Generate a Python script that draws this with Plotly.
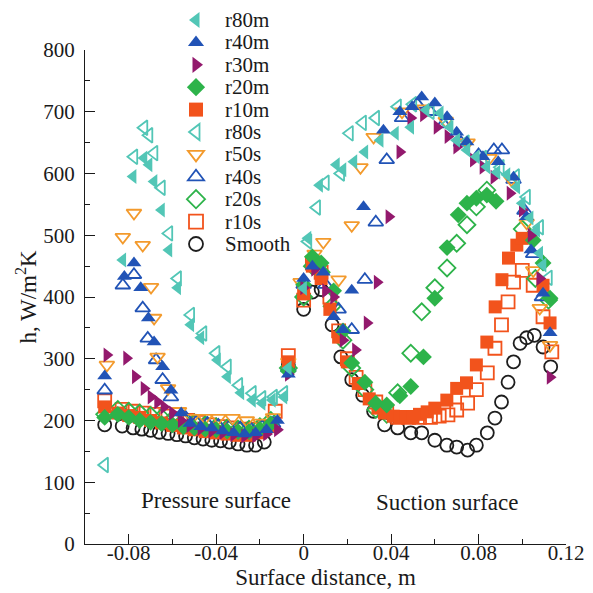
import math
import plotly.graph_objects as go

# ---------------- data ----------------
smooth_x = [-0.091, -0.083, -0.078, -0.074, -0.070, -0.066, -0.062, -0.058, -0.054, -0.050, -0.046, -0.042,
            -0.038, -0.034, -0.030, -0.026, -0.022, -0.018, -0.007, 0.000, 0.004, 0.008, 0.013, 0.017, 0.022,
            0.027, 0.032, 0.037, 0.043, 0.049, 0.054, 0.060, 0.0655, 0.070, 0.075, 0.079, 0.084, 0.0875,
            0.0905, 0.0935, 0.096, 0.099, 0.102, 0.1055, 0.1095, 0.113]
smooth_y = [193, 191, 188, 186, 184, 181, 179, 177, 175, 172, 170, 168, 167, 165, 162, 160, 160, 165, 290,
            380, 408, 412, 355, 303, 266, 241, 215, 193, 188, 180, 180, 168, 160, 157, 152, 160, 180, 204,
            230, 262, 295, 325, 334, 338, 319, 287]

r10s_x = [-0.091, -0.083, -0.078, -0.073, -0.068, -0.063, -0.058, -0.053, -0.048, -0.043, -0.038, -0.033,
          -0.028, -0.023, -0.018, -0.013, -0.007,
          0.000, 0.004, 0.008, 0.012, 0.016, 0.020, 0.024, 0.028, 0.033, 0.038, 0.043, 0.048, 0.053, 0.058,
          0.062, 0.066, 0.070, 0.075, 0.079, 0.084, 0.0875, 0.0905, 0.0935, 0.096, 0.100, 0.105, 0.1095, 0.1135]
r10s_y = [232, 218, 215, 212, 210, 207, 203, 200, 197, 193, 190, 188, 186, 186, 190, 215, 305,
          395, 455, 440, 400, 345, 300, 270, 250, 230, 215, 205, 205, 205, 205, 207, 209, 217, 228, 250,
          277, 317, 355, 392, 424, 443, 419, 368, 311]

r20s_x = [-0.091, -0.085, -0.080, -0.075, -0.070, -0.065, -0.060, -0.055, -0.050, -0.045, -0.040, -0.035,
          -0.030, -0.025, -0.020, -0.015, -0.007,
          0.000, 0.004, 0.008, 0.013, 0.018, 0.022, 0.028, 0.033, 0.038, 0.043, 0.049, 0.054, 0.060, 0.0656,
          0.070, 0.0747, 0.079, 0.0838, 0.100, 0.106, 0.112]
r20s_y = [210, 218, 215, 212, 208, 205, 202, 199, 196, 193, 190, 188, 186, 186, 190, 200, 285,
          400, 450, 440, 385, 330, 285, 250, 218, 210, 245, 309, 376, 415, 447, 487, 517, 546, 573, 510,
          430, 395]

r40s_x = [-0.091, -0.0827, -0.0776, -0.0736, -0.0713, -0.0675, -0.0645, -0.0607, -0.054, -0.049, -0.044,
          -0.039, -0.034, -0.029, -0.024, -0.019, -0.014, -0.007,
          0.000, 0.006, 0.010, 0.016, 0.022, 0.028, 0.033, 0.038, 0.045, 0.052, 0.058, 0.064, 0.072, 0.080,
          0.087, 0.0907, 0.096, 0.101, 0.105, 0.109]
r40s_y = [249, 419, 436, 382, 333, 298, 266, 238, 205, 198, 195, 192, 190, 188, 186, 190, 195, 285,
          420, 455, 420, 380, 347, 428, 521, 622, 690, 712, 700, 680, 650, 630, 638, 638, 590, 540, 470, 400]

r50s_x = [-0.090, -0.0827, -0.0776, -0.0736, -0.0698, -0.0684, -0.0668, -0.062, -0.057, -0.051, -0.045,
          -0.039, -0.0325, -0.026, -0.0196, -0.014, -0.007,
          -0.0014, 0.005, 0.009, 0.016, 0.022, 0.026, 0.032, 0.045, 0.055, 0.065, 0.075, 0.085, 0.095,
          0.102, 0.105, 0.108, 0.1127]
r50s_y = [290, 497, 536, 484, 416, 366, 303, 252, 215, 204, 204, 204, 204, 200, 196, 205, 295,
          424, 470, 489, 428, 516, 610, 659, 700, 705, 685, 650, 625, 590, 520, 443, 382, 322]

r80s_x = [-0.091, -0.0776, -0.073, -0.0707, -0.0684, -0.065, -0.0616, -0.0576, -0.0516, -0.046, -0.040,
          -0.0348, -0.0296, -0.0234, -0.019, -0.0137, -0.009,
          0.002, 0.006, 0.010, 0.017, 0.021, 0.027, 0.033, 0.043, 0.050, 0.058, 0.066, 0.074, 0.082, 0.090,
          0.097, 0.102, 0.108, 0.112]
r80s_y = [128, 627, 674, 662, 633, 577, 503, 430, 371, 341, 309, 287, 257, 244, 236, 238, 244,
          490, 545, 585, 600, 665, 682, 690, 708, 712, 700, 680, 650, 625, 610, 595, 562, 513, 431]

r10m_x = [-0.091, -0.085, -0.080, -0.075, -0.070, -0.065, -0.060, -0.055, -0.050, -0.045, -0.040, -0.035,
          -0.030, -0.025, -0.020, -0.015, -0.007,
          0.000, 0.004, 0.008, 0.012, 0.016, 0.020, 0.025, 0.030, 0.034, 0.037, 0.041, 0.044, 0.047, 0.050,
          0.053, 0.0565, 0.060, 0.0655, 0.070, 0.0745, 0.079, 0.0838, 0.0876, 0.0907, 0.0937, 0.0975,
          0.100, 0.1095, 0.1127]
r10m_y = [222, 212, 208, 205, 200, 196, 192, 188, 185, 182, 180, 178, 176, 176, 180, 190, 295,
          405, 450, 430, 380, 335, 295, 260, 235, 220, 212, 207, 206, 206, 206, 210, 214, 220, 233, 252,
          261, 290, 327, 384, 428, 463, 484, 495, 419, 358]

r20m_x = [-0.091, -0.085, -0.080, -0.075, -0.070, -0.065, -0.060, -0.055, -0.050, -0.045, -0.040, -0.035,
          -0.030, -0.025, -0.020, -0.015, -0.007,
          0.000, 0.004, 0.008, 0.0137, 0.018, 0.022, 0.028, 0.033, 0.038, 0.044, 0.049, 0.0548, 0.060,
          0.0656, 0.0707, 0.0747, 0.079, 0.0838, 0.088, 0.105, 0.1095, 0.1127]
r20m_y = [205, 210, 205, 200, 197, 195, 193, 190, 188, 186, 185, 183, 182, 182, 186, 195, 280,
          420, 465, 455, 410, 345, 293, 262, 228, 225, 240, 255, 303, 398, 480, 533, 552, 560, 565, 555,
          492, 455, 398]

r30m_x = [-0.090, -0.081, -0.077, -0.073, -0.0698, -0.0668, -0.0639, -0.060, -0.056, -0.052, -0.047,
          -0.042, -0.037, -0.032, -0.027, -0.022, -0.017, -0.012, -0.007,
          0.000, 0.005, 0.010, 0.0137, 0.018, 0.0237, 0.029, 0.0336, 0.039, 0.044, 0.049, 0.0548, 0.061,
          0.066, 0.070, 0.0776, 0.082, 0.087, 0.0944, 0.100, 0.104, 0.108, 0.1127]
r30m_y = [306, 301, 271, 252, 238, 230, 222, 212, 200, 192, 187, 183, 180, 177, 175, 175, 178, 185, 275,
          415, 445, 410, 400, 330, 314, 358, 424, 530, 635, 690, 695, 675, 660, 643, 622, 610, 594, 568,
          541, 500, 430, 270]

r40m_x = [-0.091, -0.082, -0.0776, -0.0745, -0.071, -0.0684, -0.0645, -0.0607, -0.056, -0.052, -0.047,
          -0.042, -0.037, -0.032, -0.027, -0.022, -0.017, -0.012, -0.007,
          0.000, 0.004, 0.009, 0.0137, 0.018, 0.022, 0.0274, 0.0365, 0.044, 0.0496, 0.054, 0.060, 0.0656,
          0.070, 0.0747, 0.082, 0.089, 0.096, 0.102, 0.104, 0.1095, 0.1127]
r40m_y = [272, 433, 455, 415, 366, 327, 287, 249, 212, 195, 190, 188, 183, 180, 178, 180, 185, 200, 275,
          430, 450, 440, 368, 347, 411, 546, 670, 700, 708, 724, 714, 692, 667, 651, 627, 619, 594, 530,
          476, 406, 342]

r80m_x = [-0.0827, -0.078, -0.073, -0.0707, -0.0684, -0.065, -0.0616, -0.0576, -0.0516, -0.047, -0.0394,
          -0.0348, -0.0287, -0.0234, -0.019, -0.0143, -0.009, -0.007,
          0.000, 0.002, 0.0073, 0.015, 0.018, 0.023, 0.028, 0.035, 0.042, 0.049, 0.056, 0.0625, 0.067, 0.070,
          0.0747, 0.079, 0.0838, 0.0884, 0.093, 0.0975, 0.100, 0.1036, 0.1066, 0.108, 0.1095]
r80m_y = [460, 595, 625, 614, 587, 541, 476, 415, 355, 334, 298, 271, 245, 233, 228, 233, 238, 285,
          414, 495, 581, 614, 606, 619, 635, 654, 665, 675, 703, 698, 675, 654, 638, 627, 611, 602, 598,
          578, 552, 528, 508, 471, 452]

x_tickvals = [-0.08, -0.04, 0, 0.04, 0.08, 0.12]
x_ticktext = ["-0.08", "-0.04", "0", "0.04", "0.08", "0.12"]
y_tickvals = [0, 100, 200, 300, 400, 500, 600, 700, 800]

# ---------------- styling ----------------
C80 = "#52C6B6"
C40 = "#2153B6"
C30 = "#93196D"
C20 = "#2DB34A"
C10 = "#F2531C"
C50 = "#F39A2C"
CSM = "#1E1E1E"
TXT = "#1a1a1a"
FONT = "Liberation Serif"

W, H = 593, 593
ML, MR, MT, MB = 85, 27, 50, 49
PW, PH = W - ML - MR, H - MT - MB

# drawing order (last on top)
series = [
    ("Smooth", smooth_x, smooth_y, "circle-open", CSM),
    ("r10s", r10s_x, r10s_y, "square-open", C10),
    ("r20s", r20s_x, r20s_y, "diamond-open", C20),
    ("r40s", r40s_x, r40s_y, "triangle-up-open", C40),
    ("r50s", r50s_x, r50s_y, "triangle-down-open", C50),
    ("r80s", r80s_x, r80s_y, "triangle-left-open", C80),
    ("r10m", r10m_x, r10m_y, "square", C10),
    ("r20m", r20m_x, r20m_y, "diamond", C20),
    ("r30m", r30m_x, r30m_y, "triangle-right", C30),
    ("r40m", r40m_x, r40m_y, "triangle-up", C40),
    ("r80m", r80m_x, r80m_y, "triangle-left", C80),
]
legend_order = ["r80m", "r40m", "r30m", "r20m", "r10m", "r80s", "r50s", "r40s", "r20s", "r10s", "Smooth"]


def marker(sym, col, size):
    is_open = sym.endswith("-open")
    return dict(symbol=sym, size=size, color=col, line=dict(width=1.8 if is_open else 0, color=col))


fig = go.Figure()
for name, xs, ys, sym, col in series:
    fig.add_trace(go.Scatter(x=xs, y=ys, mode="markers", name=name, showlegend=False,
                             marker=marker(sym, col, 13)))


# ---- legend drawn as layout shapes + text (tight line spacing like the reference) ----
def px2paper(px, py):
    return (px - ML) / PW, (H - MB - py) / PH


def symbol_shape(sym, col, cx, cy, size):
    r = size / 2.0
    rt = r * 2 / math.sqrt(3)
    r2 = r / 2
    rd = r * 1.3
    base = sym.replace("-open", "")
    pts = {
        "triangle-left": [(r2, -rt), (r2, rt), (-r, 0)],
        "triangle-right": [(-r2, -rt), (-r2, rt), (r, 0)],
        "triangle-up": [(-rt, r2), (rt, r2), (0, -r)],
        "triangle-down": [(-rt, -r2), (rt, -r2), (0, r)],
        "square": [(r, r), (-r, r), (-r, -r), (r, -r)],
        "diamond": [(rd, 0), (0, rd), (-rd, 0), (0, -rd)],
    }
    is_open = sym.endswith("-open")
    style = dict(xref="paper", yref="paper", layer="above",
                 line=dict(color=col, width=1.8 if is_open else 0),
                 fillcolor="rgba(0,0,0,0)" if is_open else col)
    if base == "circle":
        x0, y0 = px2paper(cx - r, cy + r)
        x1, y1 = px2paper(cx + r, cy - r)
        return dict(type="circle", x0=x0, y0=y0, x1=x1, y1=y1, **style)
    path = ""
    for k, (dx, dy) in enumerate(pts[base]):
        X, Y = px2paper(cx + dx, cy + dy)
        path += ("M" if k == 0 else "L") + f"{X:.5f},{Y:.5f}"
    return dict(type="path", path=path + "Z", **style)


lookup = {s[0]: s for s in series}
leg_top_px, leg_step_px, leg_sym_px, leg_txt_px = 20, 22.4, 196, 224
shapes = []
for i, name in enumerate(legend_order):
    _, _, _, sym, col = lookup[name]
    py = leg_top_px + i * leg_step_px
    shapes.append(symbol_shape(sym, col, leg_sym_px, py, 14))
    ax, ay = px2paper(leg_txt_px, py)
    fig.add_annotation(x=ax, y=ay, xref="paper", yref="paper", xanchor="left", yanchor="middle",
                       text=name, showarrow=False, height=20, borderpad=0, align="left", valign="middle",
                       font=dict(family=FONT, size=21, color=TXT))

fig.add_annotation(x=-0.040, y=70, text="Pressure surface", showarrow=False,
                   font=dict(family=FONT, size=23, color=TXT))
fig.add_annotation(x=0.0657, y=68, text="Suction surface", showarrow=False,
                   font=dict(family=FONT, size=23, color=TXT))

axis_common = dict(showgrid=False, zeroline=False, showline=True, linecolor=TXT, linewidth=1.2,
                   ticks="inside", ticklen=10, tickwidth=1.2, tickcolor=TXT, automargin=False,
                   tickfont=dict(family=FONT, size=21, color=TXT))

fig.update_xaxes(range=[-0.1, 0.12], tickvals=x_tickvals, ticktext=x_ticktext,
                 ticklabelstandoff=-10,
                 minor=dict(dtick=0.02, tick0=0, ticks="inside", ticklen=5, tickwidth=1.2, tickcolor=TXT),
                 title=dict(text="Surface distance, m", font=dict(family=FONT, size=23, color=TXT),
                            standoff=2),
                 **axis_common)
fig.update_yaxes(range=[0, 800], tickvals=y_tickvals,
                 ticklabelstandoff=5,
                 minor=dict(dtick=50, tick0=0, ticks="inside", ticklen=5, tickwidth=1.2, tickcolor=TXT),
                 title=dict(text="h, W/m<sup>2</sup>K", font=dict(family=FONT, size=23, color=TXT),
                            standoff=0),
                 **axis_common)

fig.update_layout(
    width=W, height=H,
    margin=dict(l=ML, r=MR, t=MT, b=MB),
    plot_bgcolor="white", paper_bgcolor="white",
    font=dict(family=FONT, color=TXT),
    showlegend=False,
    shapes=shapes,
)

fig.write_html("out.html")
